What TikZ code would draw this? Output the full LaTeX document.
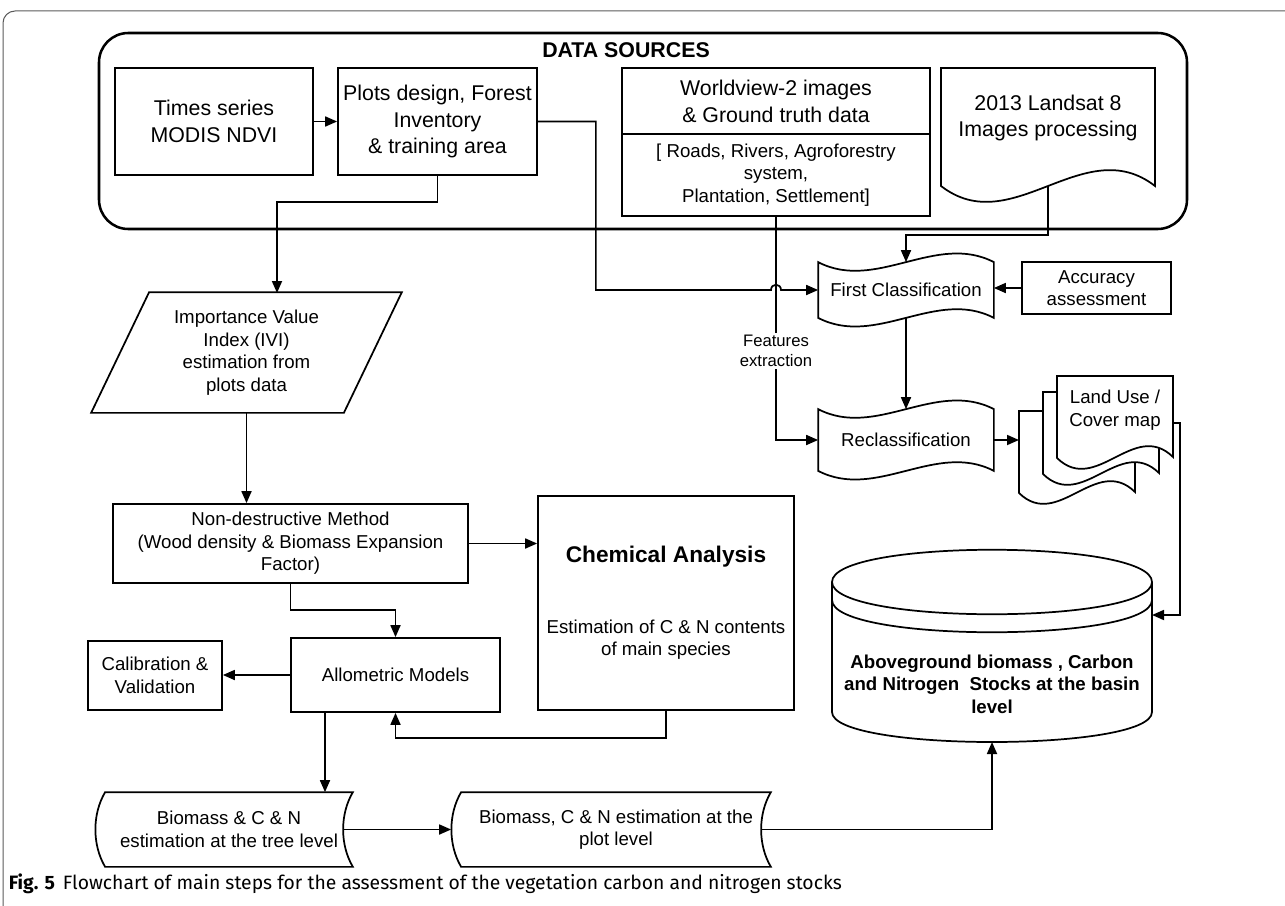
\documentclass[tikz,border=0pt]{standalone}
\usepackage{fontspec}
\setmainfont{Liberation Sans}
\newfontfamily\capfont{Fira Sans}
\usetikzlibrary{arrows.meta}

\tikzset{every picture/.style={line width=1.3pt}}
\tikzset{
	bigtxt/.style={font=\fontsize{16}{20.2}\selectfont},
	medtxt/.style={font=\fontsize{14}{16.9}\selectfont},
	box/.style={draw, rectangle, align=center, inner sep=0pt, medtxt},
	shp/.style={rectangle, align=center, inner sep=0pt, medtxt},
	flow/.style={-{Triangle[length=9pt,width=7.5pt]}}
}

\begin{document}
\begin{tikzpicture}[x=0.75pt,y=0.75pt,yscale=-1,xscale=1]
	\useasboundingbox (0,0) rectangle (1285,906);

	%Figure frame
	\draw [line width=0.75pt, color={rgb, 255:red, 90; green, 90; blue, 90 }, rounded corners=9pt] (1285,11) -- (3,11) -- (3,906);

	%Shape: Rounded Rect (data sources)
	\draw [line width=1.9pt, rounded corners=22pt] (99,33) rectangle (1187,229);
	% Text Node
	\node [font=\bfseries\fontsize{16}{19}\selectfont] (dstitle) at (626,50) {DATA SOURCES};

	%Shape: Rectangle
	\node [box, bigtxt, minimum width=148.5pt, minimum height=80.25pt] (times) at (214,121.5) {Times series\\MODIS NDVI};
	%Shape: Rectangle
	\node [box, bigtxt, minimum width=149.25pt, minimum height=80.25pt] (plots) at (437.5,121.5) {Plots design, Forest\\Inventory\\\& training area};
	%Shape: Rectangle (two parts)
	\node [box, bigtxt, minimum width=231pt, minimum height=49.5pt] (worldtop) at (776,101) {Worldview-2 images\\\& Ground truth data};
	\node [box, minimum width=231pt, minimum height=61.5pt] (worldbot) at (776,175) {[ Roads, Rivers, Agroforestry\\system,\\Plantation, Settlement]};

	%Shape: Document
	\draw (941,68) -- (1155,68) -- (1155,186) .. controls (1084,131) and (1012,241) .. (941,186) -- cycle ;
	\node [shp, bigtxt] (landsat) at (1048,118) {2013 Landsat 8\\Images processing};
	\coordinate (lsout) at (1048,186);

	%Shape: Tape
	\node [shp, minimum width=130.5pt, minimum height=40.5pt] (fc) at (906,290) {First Classification};
	\draw (fc.north west) .. controls +(58,30) and +(-58,-30) .. (fc.north east) -- (fc.south east) .. controls +(-58,-30) and +(58,30) .. (fc.south west) -- cycle ;
	%Shape: Rectangle
	\node [box, minimum width=111.75pt, minimum height=39pt] (acc) at (1096.5,288) {Accuracy\\assessment};
	%Shape: Tape
	\node [shp, minimum width=130.5pt, minimum height=45pt] (recl) at (906,440) {Reclassification};
	\draw (recl.north west) .. controls +(58,30) and +(-58,-30) .. (recl.north east) -- (recl.south east) .. controls +(-58,-30) and +(58,30) .. (recl.south west) -- cycle ;

	%Shape: Multi Document
	\draw [fill=white] (1019,411) -- (1135,411) -- (1135,492) .. controls (1096,454) and (1058,531) .. (1019,493) -- cycle ;
	\draw [fill=white] (1043,392) -- (1159,392) -- (1159,473) .. controls (1120,435) and (1082,512) .. (1043,474) -- cycle ;
	\draw [fill=white] (1057,376) -- (1173,376) -- (1173,457) .. controls (1134,419) and (1096,496) .. (1057,458) -- cycle ;
	\node [shp] (lu) at (1115,410) {Land Use /\\Cover map};
	\coordinate (luin) at (1019,440);
	\coordinate (luout) at (1173,423);

	%Shape: Parallelogram
	\node [shp, minimum width=231.75pt, minimum height=89.25pt] (ivi) at (246.5,352.5) {Importance Value\\Index (IVI)\\estimation from\\plots data};
	\draw (ivi.south west) -- ([xshift=43.5pt]ivi.north west) -- (ivi.north east) -- ([xshift=-43.5pt]ivi.south east) -- cycle ;
	\coordinate (ivitop) at (277,293);

	%Shape: Rectangle
	\node [box, minimum width=266.25pt, minimum height=59.25pt] (nd) at (290.5,543.5) {Non-destructive Method\\(Wood density \& Biomass Expansion\\Factor)};
	%Shape: Rectangle
	\node [box, minimum width=192pt, minimum height=160.5pt] (chem) at (666,603) {{\bfseries\fontsize{17}{20}\selectfont Chemical Analysis}\\[36pt]Estimation of C \& N contents\\of main species};
	%Shape: Rectangle
	\node [box, minimum width=156.75pt, minimum height=55.5pt] (allo) at (395.5,675) {Allometric Models};
	\coordinate (alloout) at (325,712);
	%Shape: Rectangle
	\node [box, minimum width=100.5pt, minimum height=51.75pt] (calib) at (155,675.5) {Calibration \&\\Validation};

	%Shape: Stored Data
	\node [shp, minimum width=184.5pt, minimum height=54.75pt] (tree) at (229,829.5) {Biomass \& C \& N\\estimation at the tree level};
	\draw (tree.north west) -- (tree.north east) .. controls +(-13,22) and +(-13,-22) .. (tree.south east) -- (tree.south west) .. controls +(-13,-22) and +(-13,22) .. (tree.north west) -- cycle ;
	%Shape: Stored Data
	\node [shp, minimum width=231pt, minimum height=54.75pt] (plot) at (616,829.5) {Biomass, C \& N estimation at the\\plot level};
	\draw (plot.north west) -- (plot.north east) .. controls +(-13,22) and +(-13,-22) .. (plot.south east) -- (plot.south west) .. controls +(-13,-22) and +(-13,22) .. (plot.north west) -- cycle ;

	%Shape: Cylinder
	\draw (832,582) .. controls (832,539) and (1152,539) .. (1152,582) .. controls (1152,625) and (832,625) .. (832,582) -- cycle ;
	\draw (832,600) .. controls (832,643) and (1152,643) .. (1152,600) ;
	\draw (832,582) -- (832,712) .. controls (832,752) and (1152,752) .. (1152,712) -- (1152,582) ;
	\node [shp, font=\bfseries\fontsize{14}{16.9}\selectfont] (cyl) at (992,684) {Aboveground biomass , Carbon\\and Nitrogen~~Stocks at the basin\\level};
	\coordinate (cylbot) at (992,742);
	\coordinate (cylright) at (1152,615);

	%Connectors
	\coordinate (hop) at (776,290);
	\draw [flow] (times.east) -- (plots.west);
	\draw [flow] (plots.east) -- ++(58,0) |- ([xshift=-3.75pt]hop) .. controls +(0,-7) and +(0,-7) .. ([xshift=3.75pt]hop) -- (fc.west);
	\draw [flow] (plots.south) -- ++(0,26) -| (ivitop);
	\draw [flow] (ivi.south) -- (ivi.south |- nd.north);
	\draw [flow] (nd.east) -- (nd.east -| chem.west);
	\draw [flow] (nd.south) -- ++(0,26) -| (allo.north);
	\draw [flow] (allo.west) -- (allo.west -| calib.east);
	\draw [flow] (chem.south) -- ++(0,27) -| (allo.south);
	\draw [flow] (alloout) -- (alloout |- tree.north);
	\draw [flow] ([xshift=-7.5pt]tree.east) -- ([xshift=-7.5pt]plot.west);
	\draw [flow] ([xshift=-7.5pt]plot.east) -| (cylbot);
	\draw [flow] (lsout) -- ++(0,49) -| (fc.north);
	\draw [flow] (acc.west) -- (acc.west -| fc.east);
	\draw [flow] (fc.south) -- (recl.north);
	\draw [flow] (worldbot.south) |- node [pos=0.3, fill=white, inner sep=1.5pt, align=center, font=\fontsize{12.5}{15}\selectfont] (featlbl) {Features\\extraction} (recl.west);
	\draw [flow] (recl.east) -- (luin);
	\draw [flow] (luout) -- ++(7,0) |- (cylright);

	% Text Node
	\node [anchor=west, inner sep=0pt, font=\capfont\fontsize{14.5}{17}\selectfont] (caption) at (8,884) {\textbf{Fig. 5}\hspace{6pt}Flowchart of main steps for the assessment of the vegetation carbon and nitrogen stocks};

\end{tikzpicture}
\end{document}
